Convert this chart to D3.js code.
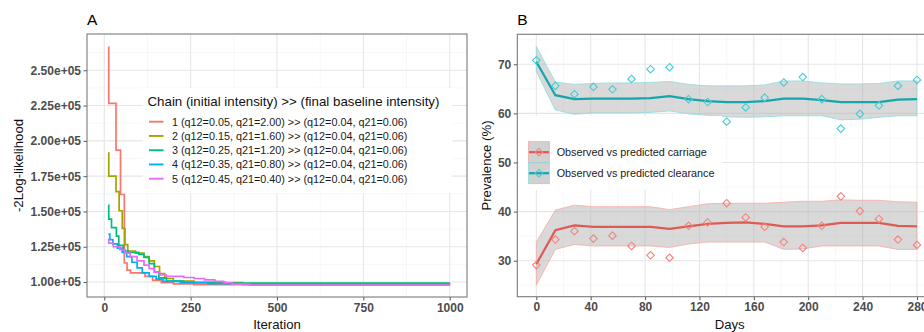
<!DOCTYPE html>
<html><head><meta charset="utf-8">
<script src="https://cdn.jsdelivr.net/npm/d3@7"></script>
<style>
html,body{margin:0;padding:0;background:#fff;}
svg{display:block;font-family:"Liberation Sans",Arial,Helvetica,sans-serif;}
</style></head>
<body>
<svg id="chart" width="924" height="332"></svg>
<script>
// ---------- Panel A data: step traces [iteration, -2LogLik] ----------
const chainLabels = [
  "1 (q12=0.05, q21=2.00) >> (q12=0.04, q21=0.06)",
  "2 (q12=0.15, q21=1.60) >> (q12=0.04, q21=0.06)",
  "3 (q12=0.25, q21=1.20) >> (q12=0.04, q21=0.06)",
  "4 (q12=0.35, q21=0.80) >> (q12=0.04, q21=0.06)",
  "5 (q12=0.45, q21=0.40) >> (q12=0.04, q21=0.06)"
];
const chainColors = ["#F8766D","#A3A500","#00BF7D","#00B0F6","#E76BF3"];
const chain1 = [[12,266500],[13,226500],[34,193500],[47,162000],[58,113500],[66,108500],[76,106500],[118,104000],[140,101200],[165,99600],[200,98700],[260,98200],[400,97900],[1000,97900]];
const chain2 = [[12,191500],[13,175000],[34,164000],[43,150500],[52,138000],[60,126500],[68,122000],[90,120500],[115,118000],[130,115000],[145,111000],[160,106000],[175,102500],[200,100700],[260,99600],[400,98900],[1000,98900]];
const chain3 = [[12,154500],[13,144500],[21,138500],[35,132500],[42,126000],[55,122000],[70,121000],[100,119500],[115,117500],[130,113000],[145,107000],[158,103000],[180,100600],[230,99800],[350,99300],[1000,99300]];
const chain4 = [[12,134000],[16,130000],[25,127000],[38,124000],[52,121000],[65,118000],[80,114000],[95,110000],[110,106500],[130,104000],[150,102000],[170,100500],[220,99500],[300,98800],[1000,98500]];
const chain5 = [[12,130500],[13,127500],[26,125000],[45,123000],[60,120500],[75,118000],[95,115000],[115,112000],[130,109500],[145,107000],[160,105000],[180,104000],[230,103200],[260,102500],[290,101500],[320,100500],[345,99500],[370,98500],[420,97800],[1000,97500]];
const chains = [chain1, chain2, chain3, chain4, chain5];
const xTicksA = [0,250,500,750,1000];
const yTicksA = [100000,125000,150000,175000,200000,225000,250000];

// ---------- Panel B data ----------
const days = [0,14,28,42,56,70,84,98,112,126,140,154,168,182,196,210,224,238,252,266,280];
const obsCarriage  = [29.1,34.3,36.0,34.5,35.1,33.0,31.1,30.6,37.1,37.8,41.7,38.8,36.9,33.8,32.6,37.1,43.1,40.1,38.5,34.3,33.2];
const predCarriage = [29.3,36.2,37.2,36.9,36.9,36.9,36.9,36.5,37.0,37.5,37.7,37.8,37.5,37.0,37.0,37.2,37.7,37.7,37.7,37.1,37.0];
const lowCarriage  = [25.0,32.3,33.3,33.0,33.0,33.0,33.0,32.7,33.4,33.8,33.8,33.8,33.8,32.3,32.4,33.0,33.0,33.0,33.0,32.3,32.3];
const highCarriage = [33.8,40.3,41.3,41.0,41.0,41.0,41.0,40.4,41.0,41.6,41.7,41.7,41.7,41.9,42.1,42.1,42.4,42.3,42.3,42.0,41.9];
const obsClearance  = [70.8,65.6,63.9,65.4,64.9,67.0,69.0,69.4,62.9,62.3,58.3,61.2,63.2,66.3,67.4,62.9,56.9,59.9,61.6,65.6,66.8];
const predClearance = [70.5,63.7,62.9,63.0,63.0,63.0,63.1,63.5,62.9,62.5,62.3,62.3,62.5,63.0,63.0,62.7,62.3,62.3,62.3,62.8,62.9];
const lowClearance  = [68.5,60.7,59.8,60.1,60.1,60.1,60.2,60.5,59.9,59.6,59.3,59.2,59.3,59.5,59.5,59.5,58.7,58.8,59.2,59.5,59.5];
const highClearance = [73.6,66.4,65.9,66.1,66.2,66.2,66.3,66.5,65.9,65.6,65.6,65.6,65.8,66.6,66.6,66.2,66.0,66.0,66.1,66.6,66.6];
const seriesB = [
  {name:"Observed vs predicted carriage", obs:obsCarriage, pred:predCarriage, lo:lowCarriage, hi:highCarriage,
   line:"#DE5B53", point:"#F4837C", edge:"#F7A9A4"},
  {name:"Observed vs predicted clearance", obs:obsClearance, pred:predClearance, lo:lowClearance, hi:highClearance,
   line:"#15A6AC", point:"#45CDD6", edge:"#8ADCE1"}
];
const xTicksB = [0,40,80,120,160,200,240,280];
const yTicksB = [30,40,50,60,70];

const svg = d3.select("#chart");
const FONT_TICK = 12, FONT_TITLE = 13.2;
const tickColor = "#4D4D4D";

function panelFrame(g, x, y, xMajor, xMinor, yMajor, yMinor, yFmt, xTitle, yTitle, letter, yTitleX) {
  const [x0,x1] = x.range(), [y0,y1] = y.range(); // y0 bottom
  const grid = g.append("g");
  xMinor.forEach(v=>grid.append("line").attr("x1",x(v)).attr("x2",x(v)).attr("y1",y1).attr("y2",y0).attr("stroke","#F2F2F2").attr("stroke-width",0.6));
  yMinor.forEach(v=>grid.append("line").attr("x1",x0).attr("x2",x1).attr("y1",y(v)).attr("y2",y(v)).attr("stroke","#F2F2F2").attr("stroke-width",0.6));
  xMajor.forEach(v=>grid.append("line").attr("x1",x(v)).attr("x2",x(v)).attr("y1",y1).attr("y2",y0).attr("stroke","#E6E6E6").attr("stroke-width",1.1));
  yMajor.forEach(v=>grid.append("line").attr("x1",x0).attr("x2",x1).attr("y1",y(v)).attr("y2",y(v)).attr("stroke","#E6E6E6").attr("stroke-width",1.1));
  // axes
  const ax = g.append("g").attr("transform",`translate(0,${y0})`)
    .call(d3.axisBottom(x).tickValues(xMajor).tickSize(3.5).tickPadding(2.5).tickFormat(d3.format("d")));
  const ay = g.append("g").attr("transform",`translate(${x0},0)`)
    .call(d3.axisLeft(y).tickValues(yMajor).tickSize(3.5).tickPadding(2.5).tickFormat(yFmt));
  [ax,ay].forEach(a=>{
    a.select(".domain").remove();
    a.selectAll(".tick line").attr("stroke","#555").attr("stroke-width",1);
    a.selectAll("text").attr("font-size",FONT_TICK).attr("font-weight","bold").attr("fill",tickColor)
      .attr("font-family","Liberation Sans, Arial, sans-serif");
  });
  g.append("text").attr("x",(x0+Math.min(x1,924+ (x1-924)))/2).attr("y",328.5).attr("text-anchor","middle")
    .attr("font-size",FONT_TITLE).attr("fill","#111").text(xTitle).attr("class","xt");
  g.append("text").attr("transform",`translate(${yTitleX},${(y0+y1)/2}) rotate(-90)`).attr("text-anchor","middle")
    .attr("font-size",FONT_TITLE).attr("fill","#111").text(yTitle);
  g.append("text").attr("x",x0).attr("y",25).attr("font-size",15.5).attr("fill","#000").text(letter);
}

// ---------------- Panel A ----------------
const xA = d3.scaleLinear().domain([-50,1050]).range([87,467]);
const yA = d3.scaleLinear().domain([89400,275700]).range([297,34]);
const gA = svg.append("g");
panelFrame(gA, xA, yA, xTicksA, [125,375,625,875], yTicksA, [112500,137500,162500,187500,212500,237500,262500],
  d=>d3.format(".2e")(d).replace("e+5","e+05"), "Iteration", "-2Log-likelihood", "A", 23);
gA.select(".xt").attr("x",(87+467)/2);

svg.append("defs").append("clipPath").attr("id","clipA").append("rect")
  .attr("x",87).attr("y",34).attr("width",380).attr("height",263);
const stepLine = d3.line().x(d=>xA(d[0])).y(d=>yA(d[1])).curve(d3.curveStepAfter);
const linesA = gA.append("g").attr("clip-path","url(#clipA)");
chains.forEach((c,i)=>{
  linesA.append("path").datum(c).attr("d",stepLine).attr("fill","none")
    .attr("stroke",chainColors[i]).attr("stroke-width",1.7);
});
// legend A
const lgA = gA.append("g");
lgA.append("rect").attr("x",143).attr("y",88).attr("width",309).attr("height",105).attr("fill","#fff");
lgA.append("text").attr("x",147.5).attr("y",106.3).attr("font-size",13.3).attr("fill","#111")
  .text("Chain (initial intensity) >> (final baseline intensity)");
chainLabels.forEach((lab,i)=>{
  const cy = 121.7 + i*14.25;
  lgA.append("line").attr("x1",149).attr("x2",163.5).attr("y1",cy).attr("y2",cy)
    .attr("stroke",chainColors[i]).attr("stroke-width",1.9);
  lgA.append("text").attr("x",172).attr("y",cy+3.9).attr("font-size",10.8).attr("fill","#1a1a1a").text(lab);
});
// border A
gA.append("rect").attr("x",87).attr("y",34).attr("width",380).attr("height",263)
  .attr("fill","none").attr("stroke","#7a7a7a").attr("stroke-width",1.1);

// ---------------- Panel B ----------------
const xB = d3.scaleLinear().domain([-14,294]).range([517.3,936]);
const yB = d3.scaleLinear().domain([22.67,76.1]).range([296.7,34.3]);
const gB = svg.append("g");
panelFrame(gB, xB, yB, xTicksB, [20,60,100,140,180,220,260], yTicksB, [25,35,45,55,65,75],
  d3.format("d"), "Days", "Prevalence (%)", "B", 491);
gB.select(".xt").attr("x",xB(140)+3);

svg.select("defs").append("clipPath").attr("id","clipB").append("rect")
  .attr("x",517.3).attr("y",34.3).attr("width",418.7).attr("height",262.4);
const plotB = gB.append("g").attr("clip-path","url(#clipB)");
const area = (s)=>d3.area().x((d,i)=>xB(days[i])).y0((d,i)=>yB(s.lo[i])).y1((d,i)=>yB(s.hi[i]));
const diamond = d3.symbol().type(d3.symbolDiamond2).size(36);
seriesB.forEach(s=>{
  plotB.append("path").datum(days).attr("d",area(s)).attr("fill","#B3B3B3").attr("fill-opacity",0.5)
    .attr("stroke",s.edge).attr("stroke-width",0.8);
});
seriesB.forEach(s=>{
  plotB.append("path").datum(days)
    .attr("d",d3.line().x((d,i)=>xB(days[i])).y((d,i)=>yB(s.pred[i])))
    .attr("fill","none").attr("stroke",s.line).attr("stroke-width",2.2);
  plotB.selectAll(null).data(days).enter().append("path")
    .attr("d",diamond).attr("transform",(d,i)=>`translate(${xB(d)},${yB(s.obs[i])})`)
    .attr("fill","none").attr("stroke",s.point).attr("stroke-width",1.1);
});
// legend B
const lgB = gB.append("g");
lgB.append("rect").attr("x",519).attr("y",116).attr("width",203).attr("height",74).attr("fill","#fff");
seriesB.forEach((s,i)=>{
  const ky = 141.7 + i*21, cy = ky+10.5;
  lgB.append("rect").attr("x",528.5).attr("y",ky).attr("width",20.8).attr("height",21)
    .attr("fill","#B3B3B3").attr("fill-opacity",0.6).attr("stroke",s.edge).attr("stroke-width",0.8);
  lgB.append("line").attr("x1",529).attr("x2",549).attr("y1",cy).attr("y2",cy).attr("stroke",s.line).attr("stroke-width",2.2);
  lgB.append("path").attr("d",diamond).attr("transform",`translate(${538.9},${cy})`)
    .attr("fill","none").attr("stroke",s.point).attr("stroke-width",1.1);
  lgB.append("text").attr("x",556.7).attr("y",cy+3.9).attr("font-size",10.8).attr("fill","#1a1a1a").text(s.name);
});
gB.append("rect").attr("x",517.3).attr("y",34.3).attr("width",418.7).attr("height",262.4)
  .attr("fill","none").attr("stroke","#7a7a7a").attr("stroke-width",1.1);
</script>
</body></html>
